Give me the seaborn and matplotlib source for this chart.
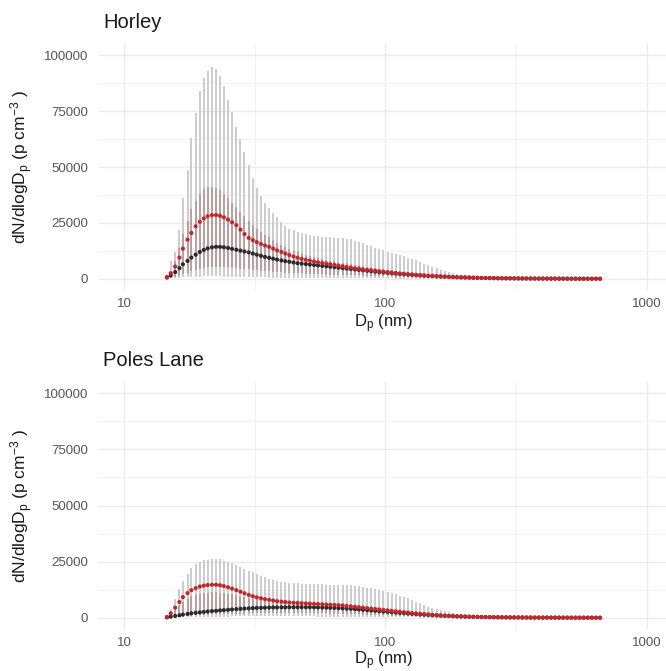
import numpy as np
import pandas as pd
import matplotlib
matplotlib.use("Agg")
import matplotlib.pyplot as plt
import seaborn as sns

# ---------------- data ----------------
diameters = [
    14.6, 15.1, 15.7, 16.3, 16.8, 17.5, 18.1, 18.8, 19.5, 20.2,
    20.9, 21.7, 22.5, 23.3, 24.1, 25.0, 25.9, 26.9, 27.9, 28.9,
    30.0, 31.1, 32.2, 33.4, 34.6, 35.9, 37.2, 38.5, 40.0, 41.4,
    42.9, 44.5, 46.1, 47.8, 49.6, 51.4, 53.3, 55.2, 57.3, 59.4,
    61.5, 63.8, 66.1, 68.5, 71.0, 73.7, 76.4, 79.1, 82.0, 85.1,
    88.2, 91.4, 94.7, 98.2, 101.8, 105.5, 109.4, 113.4, 117.6, 121.9,
    126.3, 131.0, 135.8, 140.7, 145.9, 151.2, 156.8, 162.5, 168.5, 174.7,
    181.1, 187.7, 194.6, 201.7, 209.1, 216.7, 224.7, 232.9, 241.4, 250.3,
    259.5, 269.0, 278.8, 289.0, 299.6, 310.6, 322.0, 333.8, 346.0, 358.7,
    371.8, 385.4, 399.5, 414.2, 429.4, 445.1, 461.4, 478.3, 495.8, 514.0,
    532.8, 552.3, 572.5, 593.5, 615.3, 637.8, 661.2,
]

horley_mean = [
    800, 2500, 5500, 9500, 13500, 17500, 20500, 23500, 25500, 27000,
    28000, 28500, 28500, 28200, 27500, 26500, 25300, 24000, 22000, 20000,
    18300, 17300, 16400, 15600, 14900, 14300, 13500, 12700, 12000, 11300,
    10600, 10000, 9400, 8900, 8500, 8100, 7700, 7400, 7100, 6800,
    6500, 6200, 5900, 5600, 5300, 5000, 4700, 4500, 4200, 4000,
    3800, 3600, 3400, 3200, 3000, 2800, 2600, 2400, 2250, 2100,
    1950, 1800, 1650, 1500, 1400, 1300, 1200, 1100, 1000, 900,
    820, 750, 680, 620, 560, 510, 460, 420, 380, 350,
    320, 290, 265, 240, 220, 200, 185, 170, 155, 140,
    130, 120, 110, 100, 92, 85, 78, 72, 66, 60,
    55, 50, 46, 42, 38, 35, 32,
]
horley_median = [
    600, 1500, 3000, 4800, 6500, 8000, 9500, 10800, 12000, 12900,
    13600, 14100, 14300, 14300, 14100, 13800, 13400, 13000, 12600, 12200,
    11800, 11300, 10800, 10300, 9800, 9400, 9000, 8600, 8200, 7900,
    7600, 7300, 7000, 6800, 6600, 6400, 6200, 6000, 5800, 5600,
    5400, 5200, 5000, 4800, 4600, 4400, 4200, 4000, 3800, 3600,
    3400, 3200, 3000, 2850, 2700, 2500, 2350, 2200, 2050, 1900,
    1780, 1650, 1520, 1400, 1300, 1200, 1100, 1000, 920, 840,
    770, 700, 640, 580, 520, 470, 430, 390, 350, 320,
    290, 265, 240, 220, 200, 180, 165, 150, 138, 126,
    115, 105, 96, 88, 80, 74, 68, 62, 57, 52,
    48, 44, 40, 37, 34, 31, 28,
]
horley_p95 = [
    1500, 8000, 12000, 22000, 36000, 48700, 63000, 74000, 84000, 90000,
    93000, 94600, 94000, 90500, 86000, 80000, 74500, 68000, 62500, 56500,
    51000, 45000, 40600, 37000, 34000, 31500, 29500, 27700, 25400, 23600,
    22500, 21700, 21000, 20500, 20000, 19600, 19200, 19000, 18800, 18600,
    18500, 18400, 18300, 18200, 18000, 17600, 17100, 16600, 16000, 15300,
    14700, 14000, 13300, 12700, 12100, 11600, 11100, 10700, 10100, 9500,
    8900, 8400, 7600, 6800, 6100, 5400, 4700, 4000, 3500, 3100,
    2600, 2200, 1900, 1700, 1500, 1300, 1150, 1000, 900, 800,
    720, 650, 590, 530, 480, 430, 390, 350, 320, 290,
    260, 240, 220, 200, 180, 165, 150, 140, 130, 120,
    110, 100, 92, 85, 78, 72, 66,
]
horley_p75 = [
    1000, 3500, 8000, 14000, 20000, 26000, 31000, 35000, 38000, 40000,
    41000, 41000, 40500, 39500, 38000, 36000, 34000, 32000, 30000, 28000,
    26000, 24000, 22500, 21000, 19700, 18500, 17300, 16200, 15200, 14300,
    13400, 12600, 11900, 11300, 10700, 10200, 9700, 9300, 8900, 8500,
    8100, 7800, 7500, 7200, 6900, 6600, 6300, 6000, 5700, 5400,
    5100, 4800, 4500, 4250, 4000, 3750, 3500, 3250, 3000, 2800,
    2600, 2400, 2200, 2000, 1850, 1700, 1550, 1420, 1300, 1180,
    1070, 970, 880, 800, 730, 660, 600, 545, 495, 450,
    410, 370, 335, 305, 280, 255, 232, 212, 194, 177,
    162, 148, 135, 123, 113, 103, 94, 86, 79, 72,
    66, 60, 55, 50, 46, 42, 38,
]
horley_p25 = [
    200, 500, 900, 1400, 2000, 2700, 3300, 3900, 4400, 4800,
    5100, 5300, 5400, 5400, 5300, 5200, 5000, 4800, 4600, 4400,
    4200, 4000, 3800, 3600, 3450, 3300, 3150, 3000, 2900, 2800,
    2700, 2600, 2500, 2400, 2300, 2200, 2100, 2000, 1950, 1900,
    1850, 1800, 1750, 1700, 1650, 1600, 1550, 1500, 1450, 1400,
    1350, 1300, 1230, 1160, 1100, 1040, 980, 920, 860, 800,
    750, 700, 650, 600, 560, 520, 480, 440, 410, 380,
    350, 320, 295, 270, 250, 230, 210, 190, 175, 160,
    145, 132, 120, 110, 100, 92, 84, 77, 70, 64,
    58, 53, 48, 44, 40, 36, 33, 30, 27, 25,
    23, 21, 19, 17, 15, 14, 13,
]
horley_p5 = [
    50, 150, 300, 450, 600, 750, 850, 950, 1000, 1050,
    1100, 1100, 1100, 1050, 1000, 950, 900, 850, 800, 760,
    720, 680, 650, 620, 590, 560, 540, 520, 500, 480,
    460, 440, 420, 400, 385, 370, 355, 340, 325, 310,
    300, 290, 280, 270, 260, 250, 240, 230, 220, 210,
    200, 190, 180, 170, 160, 150, 142, 134, 126, 118,
    110, 103, 96, 90, 84, 78, 72, 67, 62, 57,
    53, 49, 45, 42, 39, 36, 33, 30, 28, 26,
    24, 22, 20, 18, 17, 16, 15, 14, 13, 12,
    11, 10, 9, 8, 8, 7, 7, 6, 6, 5,
    5, 5, 4, 4, 4, 3, 3,
]

poles_mean = [
    300, 2000, 4500, 7000, 9200, 11000, 12300, 13200, 13900, 14300,
    14600, 14700, 14700, 14500, 14100, 13600, 13000, 12300, 11600, 10900,
    10200, 9600, 9100, 8700, 8300, 8000, 7700, 7400, 7200, 7000,
    6800, 6700, 6600, 6500, 6400, 6300, 6200, 6100, 6000, 5900,
    5800, 5700, 5600, 5500, 5300, 5100, 4900, 4700, 4500, 4300,
    4100, 3900, 3700, 3500, 3300, 3100, 2900, 2700, 2500, 2300,
    2100, 1950, 1800, 1650, 1500, 1350, 1200, 1080, 970, 870,
    780, 700, 630, 570, 510, 460, 415, 375, 340, 305,
    275, 250, 225, 205, 185, 168, 152, 138, 125, 114,
    104, 95, 87, 80, 73, 67, 62, 57, 52, 48,
    44, 41, 38, 35, 32, 30, 28,
]
poles_median = [
    200, 500, 800, 1100, 1400, 1700, 2000, 2200, 2400, 2600,
    2800, 3000, 3100, 3300, 3400, 3550, 3700, 3850, 4000, 4100,
    4200, 4300, 4400, 4450, 4500, 4550, 4600, 4600, 4650, 4650,
    4700, 4700, 4700, 4700, 4700, 4700, 4650, 4600, 4550, 4500,
    4450, 4400, 4300, 4200, 4100, 4000, 3850, 3700, 3550, 3400,
    3250, 3100, 2950, 2800, 2650, 2500, 2350, 2200, 2050, 1900,
    1750, 1620, 1500, 1380, 1260, 1150, 1040, 940, 850, 770,
    690, 620, 560, 500, 450, 405, 365, 330, 300, 270,
    245, 220, 200, 180, 163, 148, 134, 122, 111, 101,
    92, 84, 77, 70, 64, 59, 54, 50, 46, 42,
    39, 36, 33, 30, 28, 26, 24,
]
poles_p95 = [
    800, 4000, 8500, 13000, 16500, 19500, 22000, 23800, 25000, 25600,
    25900, 26100, 26200, 26000, 25500, 24900, 24300, 23500, 22600, 21800,
    21000, 20200, 19400, 18700, 18000, 17400, 16900, 16500, 16100, 15800,
    15600, 15400, 15300, 15200, 15100, 15000, 15000, 14900, 14900, 14800,
    14800, 14700, 14700, 14600, 14500, 14400, 14200, 14000, 13700, 13400,
    13100, 12700, 12300, 11900, 11500, 11000, 10500, 9900, 9300, 8600,
    7900, 7200, 6400, 5700, 5000, 4400, 3800, 3300, 2800, 2400,
    2050, 1750, 1500, 1280, 1100, 950, 820, 710, 620, 540,
    470, 410, 360, 315, 280, 250, 222, 198, 177, 158,
    142, 128, 115, 104, 94, 85, 77, 70, 64, 58,
    53, 49, 45, 41, 38, 35, 32,
]
poles_p75 = [
    300, 1500, 3500, 5500, 7200, 8500, 9500, 10200, 10700, 11000,
    11200, 11300, 11300, 11200, 11000, 10700, 10400, 10000, 9600, 9200,
    8800, 8500, 8200, 7900, 7700, 7500, 7300, 7200, 7100, 7000,
    6900, 6850, 6800, 6750, 6700, 6650, 6600, 6500, 6400, 6300,
    6200, 6100, 6000, 5850, 5700, 5500, 5300, 5100, 4900, 4700,
    4500, 4300, 4100, 3900, 3700, 3500, 3300, 3100, 2900, 2700,
    2500, 2300, 2100, 1950, 1800, 1650, 1500, 1350, 1220, 1100,
    990, 890, 800, 720, 650, 585, 525, 470, 425, 385,
    345, 310, 280, 252, 228, 206, 186, 168, 152, 138,
    125, 113, 102, 92, 84, 76, 69, 63, 57, 52,
    48, 44, 40, 37, 34, 31, 28,
]
poles_p25 = [
    100, 200, 350, 500, 650, 800, 950, 1100, 1200, 1300,
    1400, 1500, 1550, 1600, 1650, 1700, 1750, 1800, 1850, 1900,
    1950, 2000, 2000, 2050, 2050, 2100, 2100, 2100, 2150, 2150,
    2150, 2150, 2150, 2150, 2150, 2100, 2100, 2050, 2000, 1950,
    1900, 1850, 1800, 1750, 1700, 1640, 1580, 1520, 1450, 1380,
    1310, 1240, 1170, 1100, 1030, 960, 900, 840, 780, 720,
    660, 610, 560, 510, 465, 425, 385, 350, 315, 285,
    255, 230, 207, 186, 167, 150, 135, 121, 109, 98,
    88, 79, 71, 64, 57, 51, 46, 41, 37, 33,
    30, 27, 24, 22, 20, 18, 16, 14, 13, 12,
    11, 10, 9, 8, 7, 6, 6,
]
poles_p5 = [
    20, 60, 110, 160, 210, 260, 300, 340, 380, 410,
    440, 470, 490, 510, 530, 550, 570, 585, 600, 610,
    620, 630, 640, 645, 650, 650, 650, 650, 650, 645,
    640, 630, 620, 610, 600, 585, 570, 555, 540, 520,
    500, 480, 460, 440, 420, 400, 380, 360, 340, 320,
    300, 280, 260, 240, 222, 205, 190, 175, 160, 147,
    135, 123, 112, 102, 93, 85, 77, 70, 63, 57,
    52, 47, 42, 38, 34, 31, 28, 25, 22, 20,
    18, 16, 14, 13, 12, 11, 10, 9, 8, 7,
    7, 6, 6, 5, 5, 4, 4, 4, 3, 3,
    3, 3, 2, 2, 2, 2, 2,
]

sites = ["Horley", "Poles Lane"]
y_ticks = [0, 25000, 50000, 75000, 100000]
x_ticks = [10, 100, 1000]

# ---------------- build tables ----------------
site_data = {
    "Horley": dict(mean=horley_mean, median=horley_median, p5=horley_p5,
                   p25=horley_p25, p75=horley_p75, p95=horley_p95),
    "Poles Lane": dict(mean=poles_mean, median=poles_median, p5=poles_p5,
                       p25=poles_p25, p75=poles_p75, p95=poles_p95),
}
frames = []
for s in sites:
    d = site_data[s]
    frames.append(pd.DataFrame({"site": s, "Dp": diameters, **d}))
df = pd.concat(frames, ignore_index=True)
long = df.melt(id_vars=["site", "Dp"], value_vars=["median", "mean"],
               var_name="stat", value_name="value")

# ---------------- style ----------------
sns.set_theme(style="white")
plt.rcParams["font.family"] = ["Liberation Sans", "DejaVu Sans"]
plt.rcParams["mathtext.default"] = "regular"

W, H = 666, 671
fig = plt.figure(figsize=(W / 100, H / 100), dpi=100)

# (top px, bottom px, x-label centre px)
panels = {"Horley": (44, 290, 324), "Poles Lane": (382, 629, 661)}
left_px, right_px = 98, 666
xlo, xhi = 10 ** 0.9008, 10 ** 3.0725

for s in sites:
    top, bot, xlab_y = panels[s]
    hpx = bot - top
    ax = fig.add_axes([left_px / W, 1 - bot / H, (right_px - left_px) / W, hpx / H])
    ax.set_xscale("log")
    ax.set_xlim(xlo, xhi)
    ax.set_ylim(-5000, 105000)
    sub = df[df.site == s]

    # grid
    ax.set_xticks(x_ticks)
    ax.set_xticklabels([str(t) for t in x_ticks])
    ax.set_xticks([10 ** 1.5, 10 ** 2.5], minor=True)
    ax.set_yticks(y_ticks)
    ax.set_yticklabels([str(t) for t in y_ticks])
    ax.set_yticks([12500, 37500, 62500, 87500], minor=True)
    ax.grid(True, which="major", color="#ebebeb", linewidth=1.0)
    ax.grid(True, which="minor", color="#f2f2f2", linewidth=0.7)
    ax.set_axisbelow(True)
    for sp in ax.spines.values():
        sp.set_visible(False)
    ax.tick_params(axis="both", which="both", length=0, colors="#555555", labelsize=9.5)
    ax.tick_params(axis="y", pad=7)
    ax.tick_params(axis="x", pad=6)

    # ranges
    ax.vlines(sub["Dp"], sub["p5"], sub["p95"], colors="#c4c4c4", linewidth=1.2, zorder=2)
    ax.vlines(sub["Dp"], sub["p25"], sub["p75"], colors="#a06a6a", alpha=0.45,
              linewidth=1.5, zorder=3)

    # points
    sns.scatterplot(data=long[long.site == s], x="Dp", y="value", hue="stat",
                    palette={"median": "#2b2b2b", "mean": "#c0282d"},
                    hue_order=["median", "mean"], s=9, linewidth=0,
                    legend=False, ax=ax, zorder=4)

    ax.set_xlabel(r"D$_\mathregular{p}$ (nm)", fontsize=12, color="#1a1a1a", va="center")
    ax.xaxis.set_label_coords(0.5 + (383 - (left_px + right_px) / 2) / (right_px - left_px),
                              -(xlab_y - bot) / hpx)
    ax.set_ylabel(r"dN/dlogD$_\mathregular{p}$ (p cm$^{-3}$ )", fontsize=12.5,
                  color="#1a1a1a", va="center")
    ax.yaxis.set_label_coords(-(left_px - 22) / (right_px - left_px), 0.5)
    fig.text(103 / W, 1 - (top - 22) / H, s, ha="left", va="center",
             fontsize=14.5, color="#1a1a1a")

fig.savefig("out.png", dpi=100)
